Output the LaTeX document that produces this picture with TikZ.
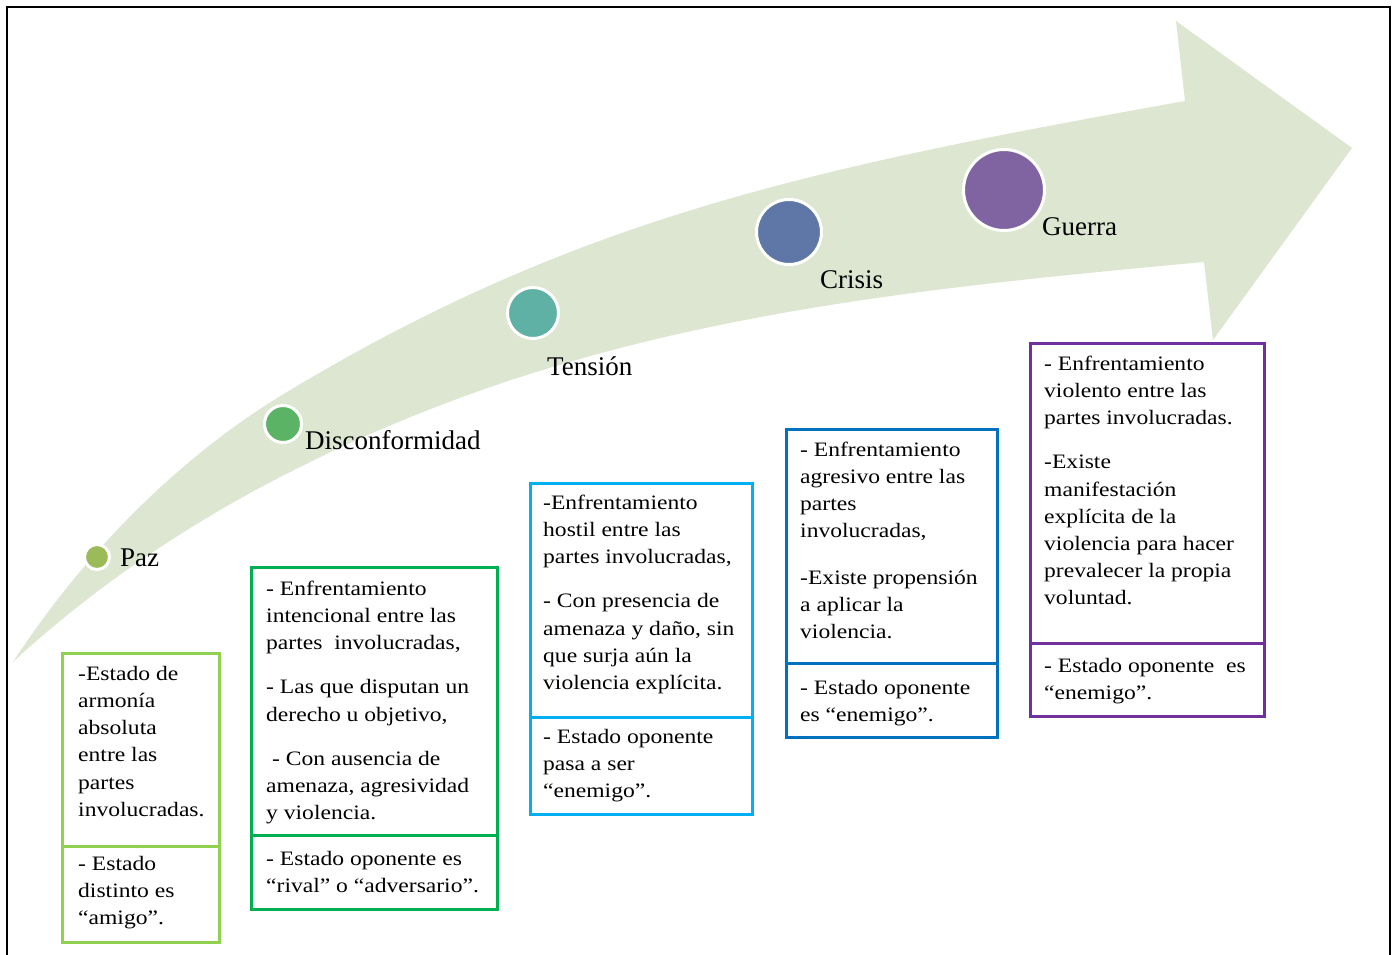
\documentclass[tikz,border=0pt]{standalone}
\usepackage{fontspec}
\setmainfont{Liberation Serif}
\newfontfamily\boxfont[FakeStretch=1.15]{Liberation Serif}
\definecolor{band}{HTML}{DCE6D0}
\definecolor{cpaz}{HTML}{9BBB59}
\definecolor{cdis}{HTML}{5BB465}
\definecolor{cten}{HTML}{5FB0A5}
\definecolor{ccri}{HTML}{5F77A7}
\definecolor{cgue}{HTML}{8064A2}
\definecolor{bone}{HTML}{92D050}
\definecolor{btwo}{HTML}{00B050}
\definecolor{bthree}{HTML}{00B0F0}
\definecolor{bfour}{HTML}{0070C0}
\definecolor{bfive}{HTML}{7030A0}
\begin{document}
\begin{tikzpicture}[x=1pt,y=-1pt,
  boxline/.style={line width=3pt, fill=white},
  divline/.style={line width=3pt},
  txt/.style={anchor=north west, inner sep=0pt, align=left, font=\boxfont\fontsize{20.5}{27.2}\selectfont},
  lbl/.style={anchor=base west, inner sep=0pt, font=\fontsize{27}{32}\selectfont},
  dot/.style={circle, draw=white, line width=3pt, inner sep=0pt},
]
\useasboundingbox (0,0) rectangle (1395,955);
\fill[white] (0,0) rectangle (1395,955);
% frame
\draw[line width=2pt, black] (7,960) -- (7,7) -- (1390,7) -- (1390,960);
% curved arrow
\fill[band] (13,662) .. controls (83,555) and (177,458) .. (287,392)
  .. controls (578,217) and (811,168) .. (1185,101)
  -- (1176,21) -- (1352,148) -- (1213,340) -- (1204,262)
  .. controls (865,293) and (586,324) .. (300,467)
  .. controls (197,518) and (97,584) .. (13,662) -- cycle;
% dots
\node[dot, fill=cpaz, minimum size=25pt] (paz) at (97,557) {};
\node[dot, fill=cdis, minimum size=37pt] (dis) at (283,424) {};
\node[dot, fill=cten, minimum size=51pt] (ten) at (533,313) {};
\node[dot, fill=ccri, minimum size=65pt] (cri) at (789,232) {};
\node[dot, fill=cgue, minimum size=81pt] (gue) at (1004,190) {};
% labels
\node[lbl] (lpaz) at (120,566) {Paz};
\node[lbl] (ldis) at (305,449) {Disconformidad};
\node[lbl] (lten) at (547,375) {Tensión};
\node[lbl] (lcri) at (820,288) {Crisis};
\node[lbl] (lgue) at (1042,235) {Guerra};
% boxes
\draw[boxline, draw=bone] (62,653) rectangle (219,942);
\draw[divline, draw=bone] (62,846) -- (219,846);
\draw[boxline, draw=btwo] (251,567) rectangle (497,909);
\draw[divline, draw=btwo] (251,835) -- (497,835);
\draw[boxline, draw=bthree] (530,483) rectangle (752,814);
\draw[divline, draw=bthree] (530,717) -- (752,717);
\draw[boxline, draw=bfour] (786,429) rectangle (997,737);
\draw[divline, draw=bfour] (786,663) -- (997,663);
\draw[boxline, draw=bfive] (1030,343) rectangle (1264,716);
\draw[divline, draw=bfive] (1030,643) -- (1264,643);
% box texts
\node[txt] (t1a) at (78,661) {\strut-Estado de\\armonía\\absoluta\\entre las\\partes\\involucradas.};
\node[txt] (t1b) at (78,851) {\strut- Estado\\distinto es\\“amigo”.};
\node[txt] (t2a) at (266,576) {\strut- Enfrentamiento\\intencional entre las\\partes\ \ involucradas,\\[17pt]- Las que disputan un\\derecho u objetivo,\\[17pt]\hspace*{6pt}- Con ausencia de\\amenaza, agresividad\\y violencia.};
\node[txt] (t2b) at (266,846) {\strut- Estado oponente es\\“rival” o “adversario”.};
\node[txt] (t3a) at (543,490) {\strut-Enfrentamiento\\hostil entre las\\partes involucradas,\\[17pt]- Con presencia de\\amenaza y daño, sin\\que surja aún la\\violencia explícita.};
\node[txt] (t3b) at (543,724) {\strut- Estado oponente\\pasa a ser\\“enemigo”.};
\node[txt] (t4a) at (800,437) {\strut- Enfrentamiento\\agresivo entre las\\partes\\involucradas,\\[19pt]-Existe propensión\\a aplicar la\\violencia.};
\node[txt] (t4b) at (800,675) {\strut- Estado oponente\\es “enemigo”.};
\node[txt] (t5a) at (1044,351) {\strut- Enfrentamiento\\violento entre las\\partes involucradas.\\[17pt]-Existe\\manifestación\\explícita de la\\violencia para hacer\\prevalecer la propia\\voluntad.};
\node[txt] (t5b) at (1044,653) {\strut- Estado oponente\ \ es\\“enemigo”.};
\end{tikzpicture}
\end{document}
